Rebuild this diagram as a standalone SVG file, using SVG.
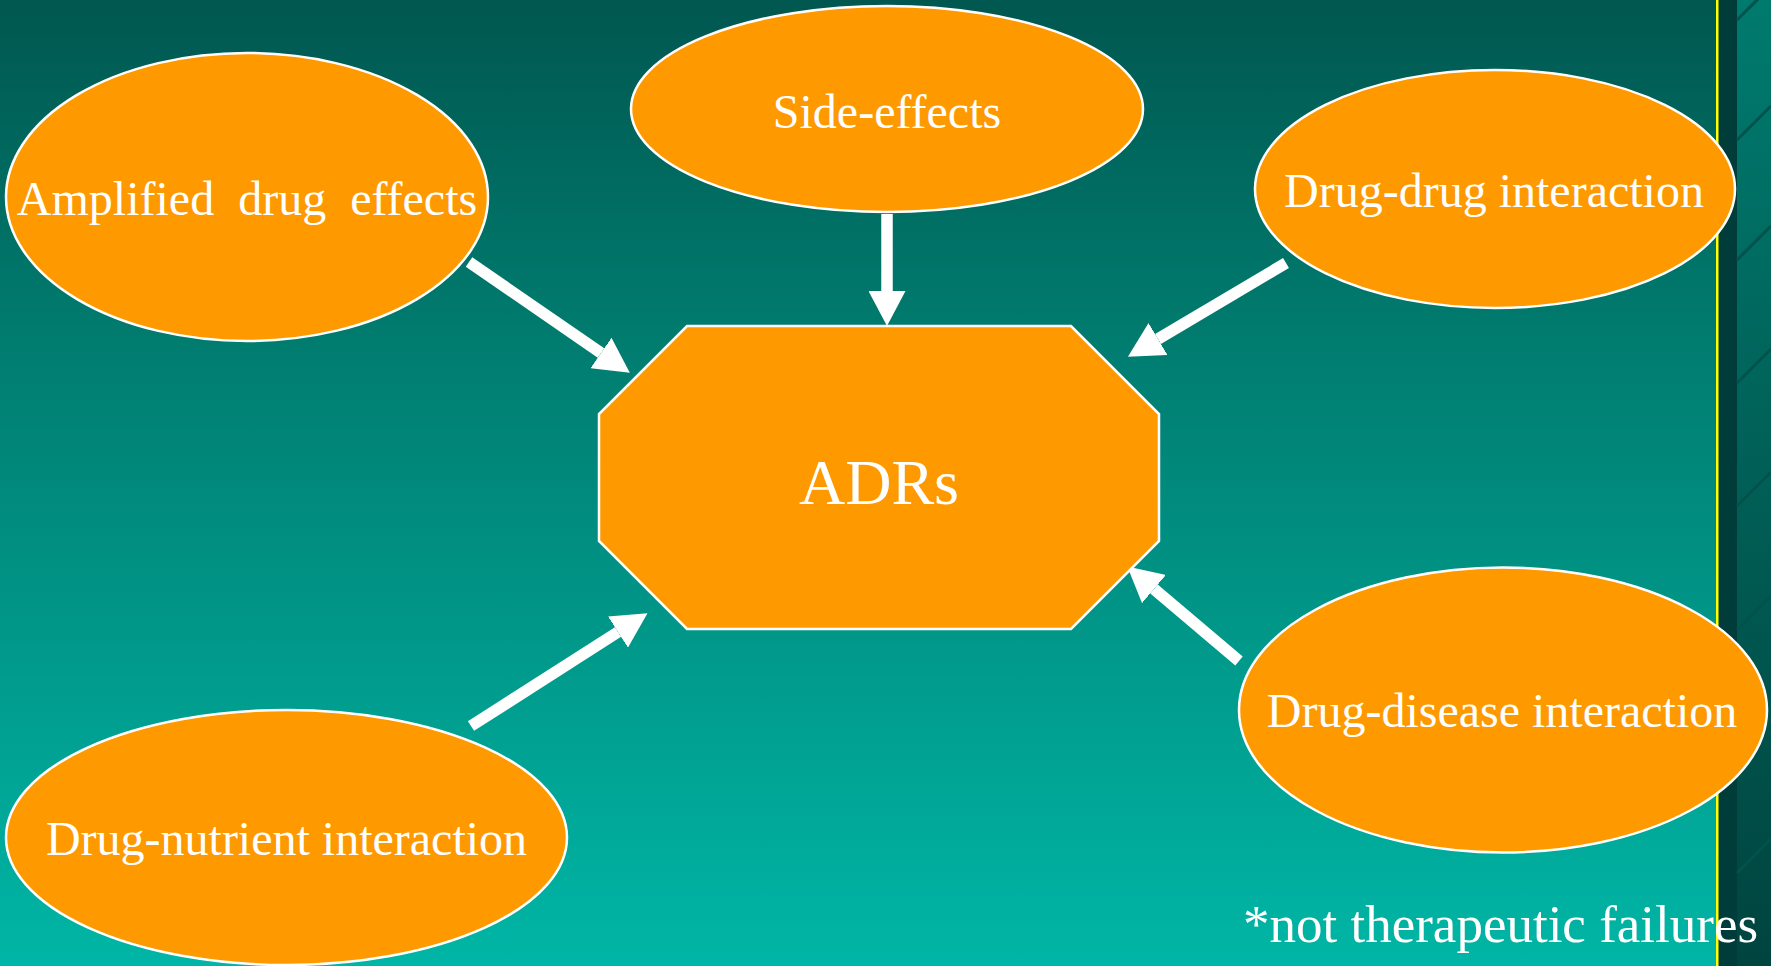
<svg xmlns="http://www.w3.org/2000/svg" width="1771" height="966" viewBox="0 0 1771 966">
<style>
.node{fill:#ff9900;stroke:#ffffff;stroke-width:2.5}
.lbl{font-family:"Liberation Serif","Times New Roman",serif;fill:#ffffff;text-anchor:middle}
.arr{stroke:#ffffff;stroke-width:11.5;fill:none;marker-end:url(#head)}
</style>
<defs>
<linearGradient id="bg" x1="0" y1="0" x2="0" y2="1">
<stop offset="0" stop-color="#005750"/>
<stop offset="0.35" stop-color="#007c6f"/>
<stop offset="1" stop-color="#00b6a6"/>
</linearGradient>
<linearGradient id="side" x1="0" y1="0" x2="0" y2="1">
<stop offset="0" stop-color="#007a6e"/>
<stop offset="1" stop-color="#00443f"/>
</linearGradient>
<marker id="head" viewBox="0 0 35 37" refX="0" refY="18.5" markerWidth="35" markerHeight="37" markerUnits="userSpaceOnUse" orient="auto">
<path d="M0,0 L35,18.5 L0,37 Z" fill="#ffffff"/>
</marker>
</defs>
<rect x="0" y="0" width="1771" height="966" fill="url(#bg)"/>
<g id="sidebar">
<rect x="1718" y="0" width="53" height="966" fill="url(#side)"/>
<rect x="1718" y="0" width="19" height="966" fill="#003d3a"/>
<g stroke="#00534c" stroke-width="3">
<line x1="1737" y1="20" x2="1771" y2="-14"/>
<line x1="1737" y1="140" x2="1771" y2="106"/>
<line x1="1737" y1="260" x2="1771" y2="226"/>
<line x1="1737" y1="383" x2="1771" y2="349"/>
<line x1="1737" y1="506" x2="1771" y2="472"/>
<line x1="1737" y1="630" x2="1771" y2="596"/>
<line x1="1737" y1="752" x2="1771" y2="718"/>
<line x1="1737" y1="873" x2="1771" y2="839"/>
</g>
<rect x="1716" y="0" width="2.5" height="966" fill="#ffff00"/>
</g>
<g id="connectors">
<line class="arr" x1="469" y1="262" x2="601" y2="353"/>
<line class="arr" x1="887" y1="214" x2="887" y2="291"/>
<line class="arr" x1="1286" y1="263" x2="1158" y2="339"/>
<line class="arr" x1="1239" y1="661" x2="1154" y2="589"/>
<line class="arr" x1="471" y1="726" x2="618" y2="632"/>
</g>
<g id="adrs">
<polygon class="node" points="687,326 1071,326 1159,414 1159,541 1071,629 687,629 599,541 599,414"/>
<text class="lbl" x="879" y="504" font-size="64">ADRs</text>
</g>
<g id="amplified">
<ellipse class="node" cx="247" cy="197" rx="241" ry="144"/>
<text class="lbl" x="247" y="215" font-size="48" xml:space="preserve">Amplified  drug  effects</text>
</g>
<g id="side-effects">
<ellipse class="node" cx="887" cy="109" rx="256" ry="103"/>
<text class="lbl" x="887" y="128" font-size="48">Side-effects</text>
</g>
<g id="drug-drug">
<ellipse class="node" cx="1495" cy="189" rx="240" ry="119"/>
<text class="lbl" x="1494" y="207" font-size="48">Drug-drug interaction</text>
</g>
<g id="drug-disease">
<ellipse class="node" cx="1503" cy="710" rx="264" ry="142.5"/>
<text class="lbl" x="1502" y="727" font-size="48">Drug-disease interaction</text>
</g>
<g id="drug-nutrient">
<ellipse class="node" cx="286.5" cy="837.5" rx="280.5" ry="127.5"/>
<text class="lbl" x="286.5" y="855" font-size="48">Drug-nutrient interaction</text>
</g>
<text class="lbl" x="1243" y="942" font-size="53" style="text-anchor:start">*not therapeutic failures</text>
</svg>
